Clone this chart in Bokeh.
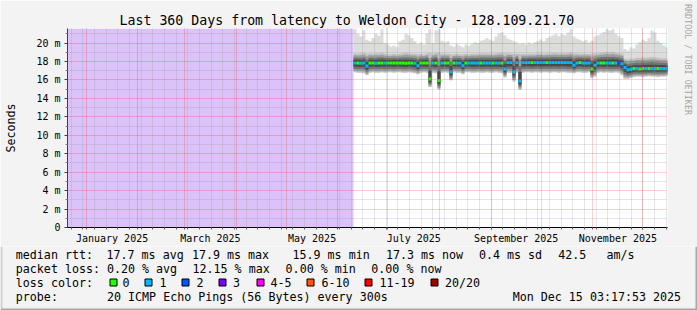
import math
from datetime import datetime, timedelta
from bokeh.plotting import figure
from bokeh.layouts import column, row
from bokeh.models import Range1d, FixedTicker, Arrow, Label
from bokeh.core.properties import value
from bokeh.embed import file_html
from bokeh.resources import INLINE

# ---------------- data ----------------
graph_start = datetime(2024, 12, 20, 18, 0)
graph_end = datetime(2025, 12, 15, 18, 0)
data_start = datetime(2025, 6, 10, 8, 0)     # before this: no data (purple)
step_hours = 43.2                            # consolidation step of the values below

smoke_top = [21.56, 21.0, 20.7, 21.4, 20.35, 20.2, 20.55, 21.0, 20.8, 21.5,
             20.0, 19.85, 19.6, 19.75, 19.55, 20.2, 20.35, 21.0, 20.85, 20.55,
             20.2, 19.9, 20.05, 19.85, 21.05, 21.5, 20.0, 21.4, 21.5, 20.25,
             20.05, 20.2, 19.75, 19.6, 19.9, 19.7, 19.55, 19.85, 19.7, 19.9,
             20.1, 20.0, 20.25, 20.35, 20.55, 20.4, 20.25, 20.7, 21.0, 21.15,
             20.85, 20.5, 20.35, 20.2, 20.05, 19.9, 20.0, 19.85, 20.05, 19.9,
             20.1, 20.25, 20.4, 20.2, 20.55, 20.7, 20.85, 21.0, 20.75, 21.0,
             20.85, 21.15, 21.5, 20.7, 20.5, 20.35, 20.2, 20.35, 20.05, 20.25,
             20.7, 20.85, 21.0, 21.2, 21.5, 21.35, 21.5, 21.05, 20.75, 20.55,
             19.35, 19.2, 19.55, 19.4, 19.85, 20.1, 20.35, 20.2, 20.55, 21.35,
             21.15, 20.25, 20.0, 19.75, 19.55]
smoke_hi = [18.9, 18.85, 18.9, 18.95, 18.85, 18.9, 18.85, 18.9, 18.9, 18.95,
            18.85, 18.8, 18.8, 18.85, 18.8, 18.85, 18.9, 18.95, 18.9, 18.85,
            18.85, 18.8, 18.85, 18.8, 18.9, 18.95, 18.85, 18.95, 18.95, 18.85,
            18.85, 18.85, 18.8, 18.8, 18.85, 18.8, 18.8, 18.85, 18.8, 18.85,
            18.85, 18.85, 18.9, 18.9, 18.9, 18.9, 18.85, 18.9, 18.95, 18.95,
            18.9, 18.9, 18.9, 18.85, 18.85, 18.85, 18.85, 18.8, 18.85, 18.85,
            18.85, 18.9, 18.9, 18.85, 18.9, 18.9, 18.95, 18.95, 18.9, 18.95,
            18.9, 18.95, 19.0, 18.9, 18.9, 18.85, 18.85, 18.85, 18.85, 18.85,
            18.9, 18.9, 18.95, 19.0, 19.05, 19.0, 19.05, 18.95, 18.9, 18.85,
            18.3, 18.25, 18.35, 18.3, 18.4, 18.4, 18.45, 18.4, 18.45, 18.5,
            18.45, 18.4, 18.35, 18.35, 18.3]
median_rtt = [17.85, 17.85, 17.8, 17.85, 17.5, 17.85, 17.85, 17.8, 17.85, 17.85,
              17.85, 17.85, 17.85, 17.85, 17.85, 17.85, 17.85, 17.8, 17.85, 17.85,
              17.8, 17.55, 17.85, 17.85, 17.85, 16.1, 17.85, 17.85, 15.95, 17.85,
              17.85, 17.85, 16.85, 17.85, 17.85, 17.85, 17.55, 17.85, 17.85, 17.85,
              17.85, 17.85, 17.85, 17.85, 17.85, 17.85, 17.85, 17.85, 17.85, 17.85,
              17.2, 17.9, 17.9, 16.85, 17.9, 15.9, 17.9, 17.9, 17.9, 17.9,
              17.9, 17.9, 17.9, 17.9, 17.9, 17.9, 17.9, 17.9, 17.9, 17.9,
              17.9, 17.9, 17.9, 17.6, 17.85, 17.9, 17.85, 17.85, 17.85, 17.2,
              17.6, 17.85, 17.85, 17.85, 17.85, 17.85, 17.85, 17.85, 17.85, 17.75,
              17.35, 17.1, 17.15, 17.25, 17.25, 17.2, 17.25, 17.25, 17.25, 17.25,
              17.25, 17.25, 17.25, 17.25, 17.25]
smoke_lo = [16.8, 16.75, 16.75, 16.7, 16.5, 16.75, 16.8, 16.75, 16.75, 16.8,
            16.75, 16.8, 16.8, 16.75, 16.8, 16.8, 16.75, 16.75, 16.8, 16.75,
            16.7, 16.6, 16.75, 16.8, 16.75, 15.2, 16.75, 16.7, 14.95, 16.75,
            16.8, 16.75, 15.95, 16.8, 16.75, 16.75, 16.6, 16.8, 16.8, 16.75,
            16.75, 16.8, 16.75, 16.75, 16.8, 16.75, 16.75, 16.8, 16.75, 16.7,
            16.25, 16.75, 16.75, 15.8, 16.75, 14.9, 16.75, 16.8, 16.8, 16.75,
            16.8, 16.8, 16.75, 16.8, 16.8, 16.75, 16.8, 16.8, 16.75, 16.8,
            16.8, 16.75, 16.75, 16.7, 16.8, 16.8, 16.75, 16.75, 16.8, 16.2,
            16.35, 16.75, 16.8, 16.75, 16.8, 16.75, 16.75, 16.8, 16.75, 16.5,
            16.1, 16.1, 16.2, 16.3, 16.35, 16.35, 16.3, 16.35, 16.4, 16.35,
            16.35, 16.3, 16.35, 16.35, 16.4]
loss_count = [1, 0, 1, 1, 1, 0, 0, 1, 0, 0,
              1, 0, 0, 0, 0, 0, 0, 0, 0, 0,
              1, 1, 0, 0, 0, 0, 1, 0, 0, 1,
              0, 0, 1, 0, 1, 1, 1, 0, 1, 1,
              1, 1, 0, 1, 1, 1, 0, 1, 1, 0,
              1, 1, 1, 1, 1, 1, 1, 1, 1, 0,
              1, 1, 1, 1, 0, 1, 1, 1, 1, 1,
              1, 1, 1, 1, 1, 0, 1, 1, 1, 0,
              1, 1, 0, 0, 1, 1, 0, 1, 3, 1,
              1, 1, 1, 0, 1, 0, 0, 1, 0, 1,
              1, 0, 1, 1, 1]

loss_labels = ["0", "1", "2", "3", "4-5", "6-10", "11-19", "20/20"]
loss_colors = ["#26FF00", "#00B8FF", "#0059FF", "#7E00FF", "#FF00FF", "#FF5500", "#FF0000", "#A10000"]
color_of_loss = {0: "#26FF00", 1: "#00B8FF", 2: "#0059FF", 3: "#7E00FF"}

y_ticks = [0, 2, 4, 6, 8, 10, 12, 14, 16, 18, 20]
y_tick_labels = ["0", "2 m", "4 m", "6 m", "8 m", "10 m", "12 m", "14 m", "16 m", "18 m", "20 m"]
y_minor = [1, 3, 5, 7, 9, 11, 13, 15, 17, 19, 21]
month_label_text = ["January 2025", "March 2025", "May 2025", "July 2025", "September 2025", "November 2025"]
month_label_month = [(2025, 1), (2025, 3), (2025, 5), (2025, 7), (2025, 9), (2025, 11)]

title_text = "Last 360 Days from latency to Weldon City - 128.109.21.70"
y_axis_title = "Seconds"
side_text = "RRDTOOL / TOBI OETIKER"
legend_rows = [
    [(15.3, "median rtt:"), (106.0, "17.7 ms avg"), (191.4, "17.9 ms max"), (292.0, "15.9 ms min"),
     (385.4, "17.3 ms now"), (478.4, "0.4 ms sd"), (557.8, "42.5"), (605.9, "am/s")],
    [(15.3, "packet loss:"), (106.4, "0.20 % avg"), (192.0, "12.15 % max"), (285.1, "0.00 % min"),
     (370.8, "0.00 % now")],
    [(15.3, "loss color:")],
    [(15.3, "probe:"), (106.5, "20 ICMP Echo Pings (56 Bytes) every 300s"),
     (512.2, "Mon Dec 15 03:17:53 2025")],
]

# ---------------- helpers ----------------
EPOCH = datetime(1970, 1, 1)


def ms(dt):
    return int((dt - EPOCH).total_seconds() * 1000)


W, H = 697, 310
MAIN_H = 246
Y_TOP = 21.58
X0, X1 = ms(graph_start), ms(graph_end)
FL, FR, FT, FB = 67, 667, 28, 228      # frame in canvas pixels
FONT = "DejaVu Sans Mono"
BG = "#F3F3F3"
SHADE_A = "#CFCFCF"
SHADE_B = "#A8A8A8"

p = figure(width=W, height=MAIN_H, output_backend="svg", toolbar_location=None,
           x_range=Range1d(X0, X1), y_range=Range1d(0, Y_TOP),
           min_border_left=FL, min_border_right=W - FR, min_border_top=FT,
           min_border_bottom=MAIN_H - FB,
           background_fill_color="#FFFFFF", border_fill_color=BG,
           outline_line_color=None)


def cx2x(cx):
    return X0 + (cx - FL) / (FR - FL) * (X1 - X0)


def cy2y(cy):
    return (FB - cy) / (FB - FT) * Y_TOP


# no-data region
p.quad(left=[X0], right=[ms(data_start)], bottom=[0], top=[Y_TOP],
       fill_color="#DBC3FA", line_color=None)

# bins
n = len(median_rtt)
edges = [ms(data_start + timedelta(hours=step_hours * i)) for i in range(n + 1)]
sx = []
for i in range(n):
    sx += [edges[i], edges[i + 1]]


def stepped(vals):
    out = []
    for v in vals:
        out += [v, v]
    return out


# smoke layers (outer light -> inner dark)
up_frac = [None, 1.0, 0.8, 0.55, 0.33]
dn_frac = [None, 0.95, 0.82, 0.62, 0.38]
shades = ["#DCDCDC", "#C2C2C2", "#9C9C9C", "#737373", "#4A4A4A"]
for k, shade in enumerate(shades):
    if k == 0:
        top = smoke_top
        bot = smoke_lo
    else:
        top = [m + up_frac[k] * (h - m) for m, h in zip(median_rtt, smoke_hi)]
        bot = [m - dn_frac[k] * (m - l) for m, l in zip(median_rtt, smoke_lo)]
    p.varea(x=sx, y1=stepped(bot), y2=stepped(top), fill_color=shade)

# median line coloured by loss
p.segment(x0=edges[:-1], x1=edges[1:], y0=median_rtt, y1=median_rtt,
          line_color=[color_of_loss[c] for c in loss_count], line_width=3, line_cap="butt")

# ---------------- grids ----------------
month_starts = []
m_y, m_m = 2025, 1
while True:
    d = datetime(m_y, m_m, 1)
    if d > graph_end:
        break
    month_starts.append(ms(d))
    m_m += 1
    if m_m > 12:
        m_m, m_y = 1, m_y + 1
mondays = []
d = datetime(2024, 12, 23)
while d < graph_end:
    mondays.append(ms(d))
    d += timedelta(days=7)

p.xgrid.ticker = FixedTicker(ticks=month_starts, minor_ticks=mondays)
p.ygrid.ticker = FixedTicker(ticks=y_ticks[1:], minor_ticks=y_minor)
for g in (p.xgrid, p.ygrid):
    g.level = "annotation"
    g.grid_line_color = "#FF0000"
    g.grid_line_alpha = 0.38
    g.grid_line_dash = "1 1"
    g.minor_grid_line_color = "#909090"
    g.minor_grid_line_alpha = 0.45
    g.minor_grid_line_dash = "1 1"

# ---------------- axes ----------------
label_ticks = []
for (yy, mm) in month_label_month:
    a = datetime(yy, mm, 1)
    b = datetime(yy + (mm == 12), mm % 12 + 1, 1)
    label_ticks.append(ms(a + (b - a) / 2))
p.xaxis.ticker = FixedTicker(ticks=label_ticks, minor_ticks=mondays + month_starts)
p.xaxis.major_label_overrides = {t: s for t, s in zip(label_ticks, month_label_text)}
p.xaxis.major_tick_line_color = None
p.xaxis.major_tick_out = 0
p.xaxis.major_tick_in = 0
p.xaxis.minor_tick_out = 2
p.xaxis.minor_tick_in = 0
p.xaxis.minor_tick_line_color = "#606060"
p.xaxis.major_label_standoff = 3
p.xaxis.axis_line_color = "#000000"

p.yaxis.ticker = FixedTicker(ticks=y_ticks, minor_ticks=y_minor)
p.yaxis.major_label_overrides = {v: s for v, s in zip(y_ticks, y_tick_labels)}
p.yaxis.major_tick_out = 3
p.yaxis.major_tick_in = 0
p.yaxis.minor_tick_out = 2
p.yaxis.minor_tick_in = 0
p.yaxis.major_label_standoff = 4
p.yaxis.axis_line_color = "#404040"
p.yaxis.major_tick_line_color = "#404040"
p.yaxis.minor_tick_line_color = "#808080"
p.yaxis.axis_label = y_axis_title
p.yaxis.axis_label_text_font = FONT
p.yaxis.axis_label_text_font_size = "11.66px"
p.yaxis.axis_label_text_font_style = "normal"
p.yaxis.axis_label_text_color = "#000000"
p.yaxis.axis_label_standoff = 15

for ax in (p.xaxis, p.yaxis):
    ax.major_label_text_font = FONT
    ax.major_label_text_font_size = "10px"
    ax.major_label_text_color = "#000000"

# title
p.title.text = title_text
p.title.align = "left"
p.title.offset = 52
p.title.standoff = 1
p.title.text_font = FONT
p.title.text_font_size = "13.25px"
p.title.text_font_style = "normal"
p.title.text_color = "#000000"

# vertical credit text in the right border panel
p.add_layout(Label(x=20.5, y=FB - 60, x_units="screen", y_units="screen", text=side_text,
                   angle=-math.pi / 2, text_align="center", text_baseline="middle",
                   text_font=FONT, text_font_size="8.4px", text_color="#A6A6A6"), "right")


# axis extensions, arrow heads and canvas frame (plain line pieces)
def seg(cx0, cy0, cx1, cy1, color, width=1):
    p.add_layout(Arrow(start=None, end=None, x_start=cx2x(cx0), y_start=cy2y(cy0),
                       x_end=cx2x(cx1), y_end=cy2y(cy1), line_color=color, line_width=width))


seg(67, 28, 67, 22, "#404040")
seg(67, 228, 67, 232, "#404040")
seg(667, 228, 670, 228, "#000000")
seg(62, 228, 67, 228, "#000000")
for cy, half in [(25.5, 2.5), (24.5, 1.5), (23.5, 1.0), (22.5, 0.5)]:
    seg(67 - half, cy, 67 + half, cy, "#800000")
for cx, half in [(669.5, 2.5), (670.5, 1.5), (671.5, 1.0), (672.5, 0.5)]:
    seg(cx, 228 - half, cx, 228 + half, "#800000")
seg(0, 1, W, 1, SHADE_A, 2)
seg(1, 0, 1, MAIN_H, SHADE_A, 2)
seg(W - 1, 2, W - 1, MAIN_H, SHADE_B, 2)

# ---------------- legend area ----------------
LEG_H = H - MAIN_H
leg = figure(width=W, height=LEG_H, output_backend="svg", toolbar_location=None,
             x_range=Range1d(0, W), y_range=Range1d(0, LEG_H),
             min_border=0, x_axis_location=None, y_axis_location=None,
             background_fill_color=BG, border_fill_color=BG, outline_line_color=None)
leg.grid.visible = False


def ly(cy):
    return H - cy


row_y = [254.3, 268.3, 282.3, 296.3]
tx, ty, tt = [], [], []
for cy, items in zip(row_y, legend_rows):
    for cx, s in items:
        tx.append(cx)
        ty.append(ly(cy))
        tt.append(s)

sw_left = [109.5, 144.5, 181.5, 218.5, 256.5, 306.5, 364.5, 430.5]
sw_text = [122.0, 159.0, 196.0, 232.5, 270.0, 321.0, 379.0, 444.5]
for lx, lbl in zip(sw_text, loss_labels):
    tx.append(lx)
    ty.append(ly(282.3))
    tt.append(lbl)

leg.quad(left=sw_left, right=[v + 7 for v in sw_left], top=[ly(278.5)] * len(sw_left),
         bottom=[ly(285.5)] * len(sw_left), fill_color=loss_colors,
         line_color="#000000", line_width=1)
leg.text(x=tx, y=ty, text=tt, text_font=value(FONT), text_font_size=value("11.66px"),
         text_color="#000000", text_align="left", text_baseline="middle")
# canvas frame shading
leg.quad(left=[0], right=[2], top=[LEG_H], bottom=[ly(308)], fill_color=SHADE_A,
         line_color=None)
leg.quad(left=[W - 2], right=[W], top=[LEG_H], bottom=[0], fill_color=SHADE_B,
         line_color=None)
leg.quad(left=[0], right=[W], top=[ly(308)], bottom=[ly(310)], fill_color=SHADE_B,
         line_color=None)

layout = column(row(p, spacing=0), leg, spacing=0)
open("out.html", "w").write(file_html(layout, INLINE))
